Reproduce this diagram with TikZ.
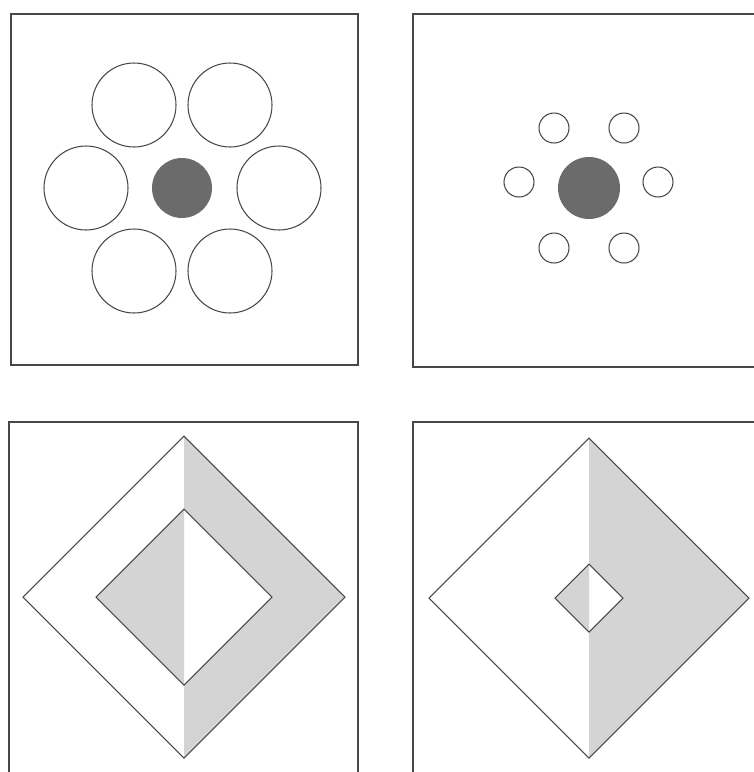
\documentclass[tikz,border=0pt]{standalone}
\colorlet{edgegray}{black!72}
\colorlet{discgray}{black!58}
\colorlet{shadegray}{black!17}
\begin{document}
\begin{tikzpicture}[x=0.02cm,y=-0.02cm,line width = 0.6pt]
\useasboundingbox (0,0) rectangle (754,772);
\draw [edgegray] (11,14) rectangle (358,365);
\draw [edgegray] (754,14) -- (413,14) -- (413,367) -- (754,367);
\draw [edgegray] (9,772) -- (9,422) -- (358,422) -- (358,772);
\draw [edgegray] (754,422) -- (413,422) -- (413,772);
\fill [discgray] (182,188) circle [radius = 30];
\draw [edgegray] (134,105) circle [radius = 42];
\draw [edgegray] (230,105) circle [radius = 42];
\draw [edgegray] (86,188) circle [radius = 42];
\draw [edgegray] (279,188) circle [radius = 42];
\draw [edgegray] (134,271) circle [radius = 42];
\draw [edgegray] (230,271) circle [radius = 42];
\fill [discgray] (589,188) circle [radius = 31];
\draw [edgegray] (554,128) circle [radius = 15];
\draw [edgegray] (624,128) circle [radius = 15];
\draw [edgegray] (519,182) circle [radius = 15];
\draw [edgegray] (658,182) circle [radius = 15];
\draw [edgegray] (554,248) circle [radius = 15];
\draw [edgegray] (624,248) circle [radius = 15];
\fill [shadegray] (184,436) -- (345,597) -- (184,758) -- cycle;
\fill [white] (184,509) -- (272,597) -- (184,685) -- cycle;
\fill [shadegray] (184,509) -- (96,597) -- (184,685) -- cycle;
\draw [edgegray] (184,436) -- (345,597) -- (184,758) -- (23,597) -- cycle;
\draw [edgegray] (184,509) -- (272,597) -- (184,685) -- (96,597) -- cycle;
\fill [shadegray] (589,438) -- (749,598) -- (589,758) -- cycle;
\fill [white] (589,564) -- (623,598) -- (589,632) -- cycle;
\fill [shadegray] (589,564) -- (555,598) -- (589,632) -- cycle;
\draw [edgegray] (589,438) -- (749,598) -- (589,758) -- (429,598) -- cycle;
\draw [edgegray] (589,564) -- (623,598) -- (589,632) -- (555,598) -- cycle;
\end{tikzpicture}
\end{document}
